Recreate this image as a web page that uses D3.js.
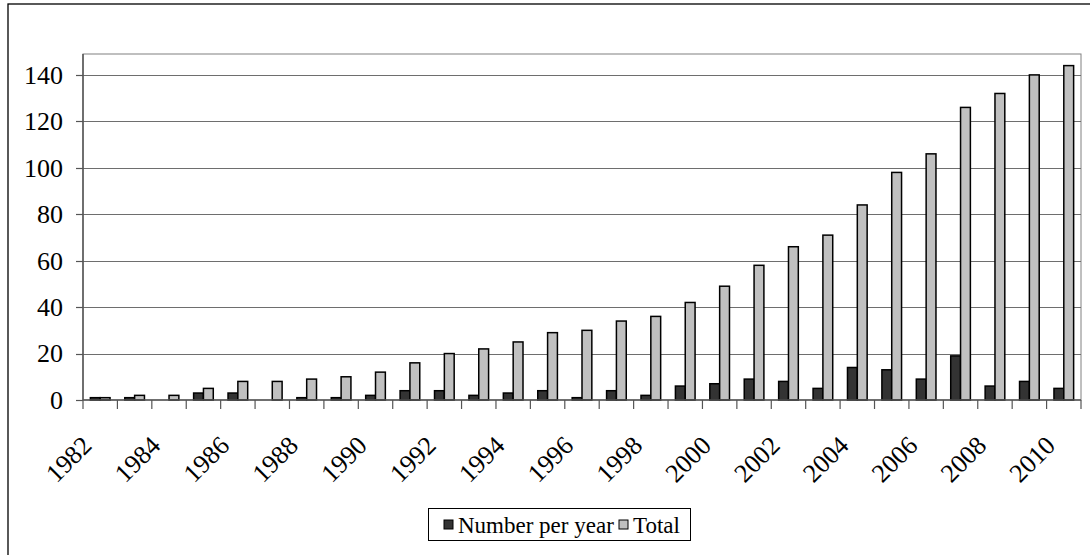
<!DOCTYPE html>
<html><head><meta charset="utf-8">
<script src="https://cdn.jsdelivr.net/npm/d3@7"></script>
<style>body{margin:0;background:#fff}svg{display:block}</style>
</head><body>
<svg id="c" width="1090" height="555" font-family="Liberation Serif"></svg>
<script>
const years = d3.range(1982, 2011).map(String);
const perYear = [1,1,0,3,3,0,1,1,2,4,4,2,3,4,1,4,2,6,7,9,8,5,14,13,9,19,6,8,5];
const total   = [1,2,2,5,8,8,9,10,12,16,20,22,25,29,30,34,36,42,49,58,66,71,84,98,106,126,132,140,144];
const yTicks = [0,20,40,60,80,100,120,140];
const xLabels = years.filter((d,i)=>i%2===0);
const seriesNames = ["Number per year","Total"];
const colors = ["#333333","#c0c0c0"];
const FONT = "Liberation Serif";

const svg = d3.select("#c");
const L=83,R=1081,T=54,B=400;

svg.append("rect").attr("x",8).attr("y",4).attr("width",1100).attr("height",600)
  .attr("fill","none").attr("stroke","#000").attr("stroke-width",1.3);

const x = d3.scaleBand().domain(years).range([L,R]).padding(0);
const y = d3.scaleLinear().domain([0,149]).range([B,T]);

svg.append("rect").attr("x",L).attr("y",T).attr("width",R-L).attr("height",B-T)
  .attr("fill","none").attr("stroke","#808080").attr("stroke-width",1);

svg.append("g").selectAll("line").data(yTicks.filter(d=>d>0)).join("line")
  .attr("x1",L).attr("x2",R).attr("y1",d=>Math.round(y(d))+0.5).attr("y2",d=>Math.round(y(d))+0.5)
  .attr("stroke","#6e6e6e").attr("stroke-width",1.2);

const bw = x.bandwidth()/3.5;
[perYear,total].forEach((arr,si)=>{
  svg.append("g").selectAll("rect").data(arr.map((v,i)=>({v,yr:years[i]}))).join("rect")
    .filter(d=>d.v>0)
    .attr("x",d=>x(d.yr)+bw*(0.75+si))
    .attr("width",bw)
    .attr("y",d=>y(d.v))
    .attr("height",d=>B-y(d.v))
    .attr("fill",colors[si]).attr("stroke","#000").attr("stroke-width",1.5);
});

// y axis
const ya = svg.append("g");
ya.append("line").attr("x1",L).attr("x2",L).attr("y1",T).attr("y2",B).attr("stroke","#555").attr("stroke-width",1.5);
ya.selectAll("line.t").data(yTicks).join("line").attr("class","t")
  .attr("x1",L-7).attr("x2",L).attr("y1",d=>Math.round(y(d))+0.5).attr("y2",d=>Math.round(y(d))+0.5)
  .attr("stroke","#555").attr("stroke-width",1.2);
ya.selectAll("text").data(yTicks).join("text")
  .attr("x",L-20).attr("y",d=>y(d)).attr("dy","0.34em").attr("text-anchor","end")
  .attr("font-size",26).attr("font-family",FONT).text(d=>d);

// x axis
const xa = svg.append("g").attr("transform",`translate(0,${B})`);
xa.append("line").attr("x1",L).attr("x2",R).attr("y1",0).attr("y2",0).attr("stroke","#555").attr("stroke-width",1.5);
const bounds = years.map(d=>x(d)).concat([R]);
xa.selectAll("line.t").data(bounds).join("line").attr("class","t")
  .attr("x1",d=>d).attr("x2",d=>d).attr("y1",0).attr("y2",9).attr("stroke","#555").attr("stroke-width",1.2);
xa.selectAll("text").data(xLabels).join("text")
  .attr("transform",d=>`translate(${x(d)+x.bandwidth()/2-7},${47}) rotate(-45)`)
  .attr("text-anchor","end").attr("font-size",26).attr("font-family",FONT)
  .text(d=>d);

// legend
const lg = svg.append("g");
lg.append("rect").attr("x",428.5).attr("y",508.5).attr("width",262).attr("height",32)
  .attr("fill","#fff").attr("stroke","#000").attr("stroke-width",1);
const items = [{n:seriesNames[0],c:colors[0],sx:444,tx:458},{n:seriesNames[1],c:colors[1],sx:619,tx:633}];
items.forEach(it=>{
  lg.append("rect").attr("x",it.sx).attr("y",520).attr("width",9).attr("height",9)
    .attr("fill",it.c).attr("stroke","#000").attr("stroke-width",1);
  lg.append("text").attr("x",it.tx).attr("y",533).attr("font-size",23).attr("font-family",FONT)
    .text(it.n);
});
</script>
</body></html>
